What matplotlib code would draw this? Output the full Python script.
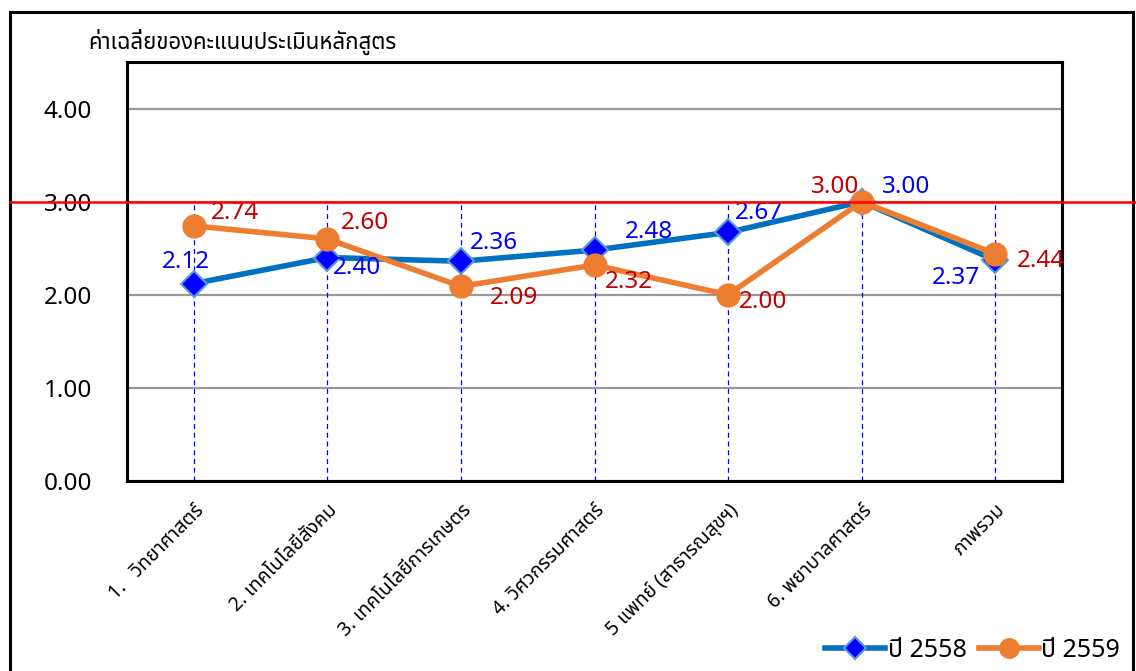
import matplotlib

matplotlib.use("Agg")

import matplotlib.pyplot as plt
from matplotlib.lines import Line2D
from matplotlib.patches import Rectangle
from matplotlib.transforms import blended_transform_factory

plt.rcParams["font.family"] = [
    "Noto Sans",
    "Noto Sans Thai",
    "IBM Plex Sans Thai",
    "Sarabun",
    "DejaVu Sans",
]

categories = [
    "1.   วิทยาศาสตร์",
    "2. เทคโนโลยีสังคม",
    "3. เทคโนโลยีการเกษตร",
    "4. วิศวกรรมศาสตร์",
    "5 แพทย์ (สาธารณสุขฯ)",
    "6. พยาบาลศาสตร์",
    "ภาพรวม",
]
scores_2558 = [2.12, 2.40, 2.36, 2.48, 2.67, 3.00, 2.37]
scores_2559 = [2.74, 2.60, 2.09, 2.32, 2.00, 3.00, 2.44]
target = 3.00
y_ticks = [0, 1, 2, 3, 4]

# label offsets in pixels (dx, dy) relative to each point
offsets_2558 = [(-8, 22), (30, -10), (33, 18), (54, 18), (31, 19), (44, 15), (-39, -18)]
offsets_2559 = [(41, 13), (38, 16), (53, -12), (34, -17), (35, -7), (-27, 15), (46, -7)]

fig = plt.figure(figsize=(11.36, 6.71), dpi=100)
ax = fig.add_axes([0.1118, 0.2832, 0.8231, 0.6244])

x = list(range(len(categories)))

ax.set_xlim(-0.5, len(categories) - 0.5)
ax.set_ylim(0, 4.5)
ax.set_yticks(y_ticks)
ax.set_yticklabels([f"{v:.2f}" for v in y_ticks], fontsize=17.5)
ax.yaxis.grid(True, color="#999999", linewidth=1.6)
ax.set_axisbelow(True)
ax.tick_params(axis="y", length=0, pad=25)
ax.tick_params(axis="x", length=0, pad=14)
for spine in ax.spines.values():
    spine.set_linewidth(2.2)
    spine.set_color("black")

ax.set_xticks(x)
ax.set_xticklabels(categories, rotation=45, ha="right", va="top",
                   rotation_mode="anchor", fontsize=14)

# drop lines from target level
ax.vlines(x, 0, target, colors="#0000FF", linestyles=(0, (4, 3)),
          linewidth=0.9, zorder=2)

# target line across whole figure
trans = blended_transform_factory(fig.transFigure, ax.transData)
fig.add_artist(Line2D([0.0088, 1.0], [target, target], transform=trans,
                      color="#FF0000", linewidth=1.8, zorder=5))

ax.plot(x, scores_2558, color="#0070C0", linewidth=4, marker="D",
        markersize=13, markerfacecolor="#0000FF", markeredgecolor="#5B9BD5",
        markeredgewidth=1.5, zorder=3, label="ปี 2558")
ax.plot(x, scores_2559, color="#ED7D31", linewidth=4, marker="o",
        markersize=16.5, markerfacecolor="#ED7D31", markeredgecolor="#ED7D31",
        zorder=4, label="ปี 2559")

for xi, v, (dx, dy) in zip(x, scores_2558, offsets_2558):
    ax.annotate(f"{v:.2f}", (xi, v), xytext=(dx * 0.72, dy * 0.72),
                textcoords="offset points", ha="center", va="center",
                fontsize=17.5, color="#0000FF", zorder=6)
for xi, v, (dx, dy) in zip(x, scores_2559, offsets_2559):
    ax.annotate(f"{v:.2f}", (xi, v), xytext=(dx * 0.72, dy * 0.72),
                textcoords="offset points", ha="center", va="center",
                fontsize=17.5, color="#C00000", zorder=6)

fig.text(0.0775, 0.937, "ค่าเฉลี่ยของคะแนนประเมินหลักสูตร", fontsize=16,
         fontweight="bold", ha="left", va="center")

fig.legend(loc="center right", bbox_to_anchor=(1.006, 0.031), ncol=2,
           frameon=False, fontsize=18, handlelength=2.4, handletextpad=0.1,
           columnspacing=0.5, markerscale=0.85)

fig.add_artist(Rectangle((0.0088, -0.05), 0.9886, 1.0321,
                         transform=fig.transFigure, fill=False,
                         edgecolor="black", linewidth=2.2))

fig.savefig("out.png", dpi=100)
plt.close(fig)
